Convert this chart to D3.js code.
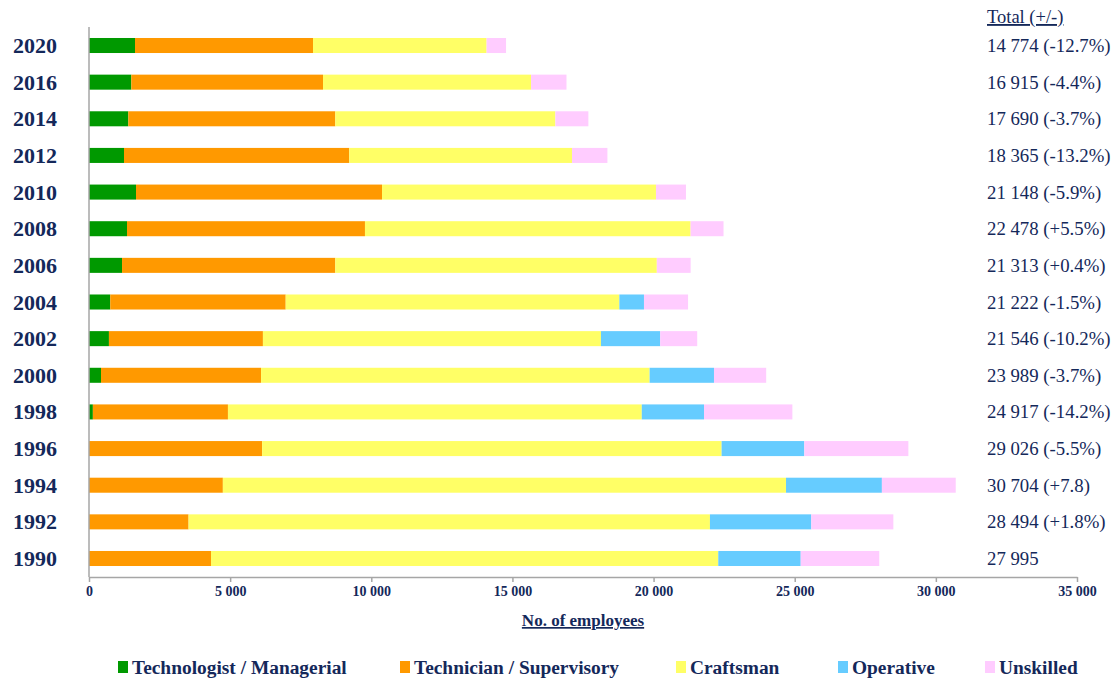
<!DOCTYPE html>
<html>
<head>
<meta charset="utf-8">
<style>
    body { margin: 0; background: #fff; }
    svg { display: block; font-family: 'Liberation Serif', 'Times New Roman', serif; }
</style>
</head>
<body>
<svg width="1116" height="679"></svg>
<script src="https://d3js.org/d3.v7.min.js"></script>
<script>
//---------------- DATA ----------------//
let years = ["2020","2016","2014","2012","2010","2008","2006","2004","2002","2000","1998","1996","1994","1992","1990"];
let categories = ["Technologist / Managerial","Technician / Supervisory","Craftsman","Operative","Unskilled"];
let technologist = [1630,1500,1393,1240,1665,1346,1170,753,706,425,137,0,0,0,0];
let technician   = [6305,6790,7332,7980,8715,8430,7555,6215,5455,5670,4785,6133,4742,3527,4322];
let craftsman    = [6150,7370,7797,7890,9705,11535,11390,11820,11975,13765,14660,16277,19950,18470,17970];
let operative    = [0,0,0,0,0,0,0,872,2100,2280,2205,2930,3396,3590,2920];
let unskilled    = [689,1255,1168,1255,1063,1167,1198,1562,1310,1849,3130,3686,2616,2907,2783];
let totalLabels  = ["14 774 (-12.7%)","16 915 (-4.4%)","17 690 (-3.7%)","18 365 (-13.2%)","21 148 (-5.9%)",
                    "22 478 (+5.5%)","21 313 (+0.4%)","21 222 (-1.5%)","21 546 (-10.2%)","23 989 (-3.7%)",
                    "24 917 (-14.2%)","29 026 (-5.5%)","30 704 (+7.8)","28 494 (+1.8%)","27 995"];
let xTicks = [0,5000,10000,15000,20000,25000,30000,35000];

let colors = ["#009900","#FF9900","#FFFF66","#66CCFF","#FFCCFF"];
let navy = "#14285a";

//---------------- SCALES ----------------//
let svg = d3.select("svg");
let margins = {top: 27, left: 89, right: 1077, bottom: 577};

let x = d3.scaleLinear().domain([0, 35000]).range([margins.left, margins.right]);
let y = d3.scaleBand().domain(years).range([margins.top, margins.bottom]).paddingInner(0.59).paddingOuter(0.3);

let table = years.map(function(yr, i){
    return {year: yr, t0: technologist[i], t1: technician[i], t2: craftsman[i], t3: operative[i], t4: unskilled[i]};
});
let stack = d3.stack().keys(["t0","t1","t2","t3","t4"]);
let series = stack(table);

//---------------- BARS ----------------//
svg.append("g")
    .selectAll("g")
    .data(series)
    .join("g")
    .attr("fill", (d, i) => colors[i])
    .selectAll("rect")
    .data(d => d)
    .join("rect")
    .attr("x", d => x(d[0]))
    .attr("y", d => y(d.data.year))
    .attr("width", d => Math.max(0, x(d[1]) - x(d[0])))
    .attr("height", y.bandwidth());

//---------------- AXES ----------------//
svg.append("line")
    .attr("x1", x(0)).attr("x2", x(0))
    .attr("y1", margins.top).attr("y2", margins.bottom)
    .attr("stroke", "#a6a6a6").attr("stroke-width", 1.5);

let xAxis = svg.append("g")
    .attr("transform", `translate(0,${margins.bottom})`)
    .attr("font-size", 14)
    .call(d3.axisBottom(x).tickValues(xTicks).tickSize(5).tickSizeOuter(0)
        .tickFormat(d => d3.format(",")(d).replace(",", " ")))
    .call(g => g.select(".domain").attr("stroke", "#a6a6a6").attr("stroke-width", 1.5))
    .call(g => g.selectAll(".tick line").attr("stroke", "#a6a6a6").attr("stroke-width", 1.5))
    .call(g => g.selectAll(".tick text")
        .attr("fill", navy).attr("font-size", 14).attr("font-weight", "bold")
        .attr("font-family", "'Liberation Serif', serif").attr("dy", "0.8em"));

svg.append("text")
    .attr("x", (margins.left + margins.right) / 2)
    .attr("y", 626)
    .attr("text-anchor", "middle")
    .attr("font-size", 17).attr("font-weight", "bold")
    .attr("fill", navy)
    .attr("text-decoration", "underline")
    .text("No. of employees");

//---------------- YEAR LABELS ----------------//
svg.append("g")
    .selectAll("text")
    .data(years)
    .join("text")
    .attr("x", 57)
    .attr("y", d => y(d) + y.bandwidth() / 2 + 7.5)
    .attr("text-anchor", "end")
    .attr("font-size", 22).attr("font-weight", "bold")
    .attr("fill", navy)
    .text(d => d);

//---------------- TOTALS ----------------//
svg.append("text")
    .attr("x", 987).attr("y", 23)
    .attr("font-size", 18.5).attr("fill", navy)
    .attr("text-decoration", "underline")
    .text("Total (+/-)");

svg.append("g")
    .selectAll("text")
    .data(years)
    .join("text")
    .attr("x", 987)
    .attr("y", d => y(d) + y.bandwidth() / 2 + 6.5)
    .attr("font-size", 18.8)
    .attr("fill", navy)
    .text((d, i) => totalLabels[i]);

//---------------- LEGEND ----------------//
let legendX = [118, 400, 676, 838, 985];
let legend = svg.append("g")
    .selectAll("g")
    .data(categories)
    .join("g")
    .attr("transform", (d, i) => `translate(${legendX[i]},661)`);

legend.append("rect")
    .attr("width", 10).attr("height", 12)
    .attr("fill", (d, i) => colors[i]);

legend.append("text")
    .attr("x", 14).attr("y", 13)
    .attr("font-size", 19.4).attr("font-weight", "bold")
    .attr("fill", navy)
    .text(d => d);
</script>
</body>
</html>
